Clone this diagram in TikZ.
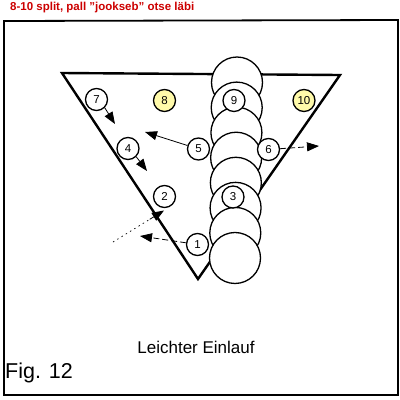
\documentclass[tikz,border=0pt]{standalone}
\usepackage{fontspec}
\setmainfont{Liberation Sans}
\usetikzlibrary{arrows.meta,calc}
\definecolor{titlered}{RGB}{204,0,0}
\definecolor{ballyellow}{RGB}{255,250,170}
\tikzset{
  frame/.style={line width=1.8pt},
  tri/.style={line width=2.4pt, line join=miter},
  bigc/.style={circle, draw, fill=white, line width=1.3pt, minimum size=51pt, inner sep=0pt},
  num/.style={circle, draw, fill=white, line width=1.3pt, minimum size=22pt, inner sep=0pt, font=\fontsize{11.5}{13}\selectfont},
  ynum/.style={num, fill=ballyellow},
  arr/.style={line width=0.8pt, -{Triangle[length=12pt,width=9pt]}},
  darr/.style={arr, dash pattern=on 6pt off 3pt},
  dotarr/.style={line width=0.7pt, dash pattern=on 1.5pt off 3.5pt},
}
\begin{document}
\begin{tikzpicture}[x=1pt,y=-1pt]
\useasboundingbox (0,0) rectangle (400,400);
% title
\node[anchor=west, text=titlered, font=\fontsize{11.5}{13}\selectfont\bfseries, inner sep=0pt] (title) at (10,8) {8-10 split, pall \char34 jookseb\char34\ otse läbi};
% frame
\draw[frame] (4,21) -- (398,20) -- (398,395) -- (4,395) -- cycle;
% triangle
\draw[tri] (62,73) -- (340,75) -- (198,279) -- cycle;
% column of big circles
\foreach \k in {0,...,7} {
  \node[bigc] (b\k) at ({237-\k*2/7},{82.5+25.07*\k}) {};
}
% numbered balls
\node[num] (n7) at (96.5,99.5) {7};
\node[ynum] (n8) at (164.5,100.5) {8};
\node[num] (n9) at (234,100.5) {9};
\node[ynum] (n10) at (304,100.5) {10};
\node[num] (n4) at (128,148.5) {4};
\node[num] (n5) at (198.5,149) {5};
\node[num] (n6) at (268.5,149.5) {6};
\node[num] (n2) at (164.5,196.5) {2};
\node[num] (n3) at (233,197) {3};
\node[num] (n1) at (197.5,244.5) {1};
% arrow targets
\coordinate (t7) at (115,124);
\coordinate (t4) at (147,171);
\coordinate (t5) at (145,132);
\coordinate (t6) at (319,146);
\coordinate (t1) at (140,236);
\coordinate (d0) at (113,242);
\coordinate (t2) at (164,210.5);
% arrows
\draw[arr] (n7.south east) -- (t7);
\draw[arr] (n4.south east) -- (t4);
\draw[arr] (n5) -- (t5);
\draw[darr] (n6) -- (t6);
\draw[darr] (n1) -- (t1);
\draw[dotarr] (d0) -- ($(d0)!0.72!(t2)$) coordinate (dm);
\draw[arr] (dm) -- (t2);
% captions
\node[font=\fontsize{17}{20}\selectfont, inner sep=0pt] (cap) at (196,347) {Leichter Einlauf};
\node[anchor=west, font=\fontsize{21.5}{24}\selectfont, inner sep=0pt] (fig) at (5,373) {Fig. 12};
\end{tikzpicture}
\end{document}
